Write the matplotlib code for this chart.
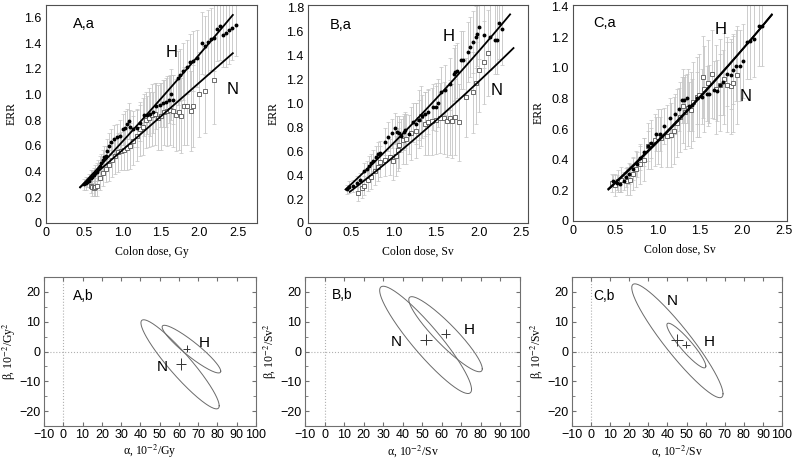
import numpy as np
import matplotlib
matplotlib.use("Agg")
import matplotlib.pyplot as plt
from matplotlib.ticker import MultipleLocator

plt.rcParams['font.family'] = ['Liberation Sans', 'DejaVu Sans']
plt.rcParams['mathtext.fontset'] = 'stix'

# ---------------- data: top row (ERR vs colon dose) ----------------
A_H_x = [0.50,0.52,0.54,0.56,0.58,0.60,0.62,0.64,0.66,0.68,0.70,0.72,0.74,0.76,0.78,0.80,0.82,0.85,0.88,0.92,
         0.96,1.00,1.03,1.06,1.08,1.10,1.14,1.18,1.23,1.28,1.32,1.36,1.40,1.44,1.48,1.52,1.56,1.60,
         1.63,1.66,1.72,1.75,1.79,1.84,1.88,1.92,1.97,2.03,2.07,2.11,2.15,2.19,2.23,2.27,2.31,2.35,2.39,2.43,2.47]
A_H_y = [0.30,0.31,0.32,0.33,0.35,0.36,0.37,0.39,0.40,0.42,0.44,0.47,0.49,0.51,0.52,0.56,0.60,0.63,0.65,0.67,
         0.68,0.73,0.74,0.77,0.79,0.75,0.73,0.74,0.78,0.84,0.84,0.85,0.86,0.91,0.92,0.93,0.94,0.96,
         1.00,0.96,1.13,1.15,1.18,1.21,1.25,1.26,1.28,1.40,1.38,1.41,1.43,1.44,1.51,1.53,1.46,1.48,1.50,1.52,1.54]
A_H_e = [0.04,0.05,0.04,0.05,0.06,0.05,0.06,0.06,0.07,0.07,0.08,0.07,0.08,0.09,0.08,0.09,0.10,0.10,0.11,0.10,
         0.12,0.12,0.13,0.12,0.14,0.13,0.14,0.15,0.14,0.16,0.15,0.17,0.16,0.18,0.17,0.18,0.19,0.18,0.20,0.19,
         0.21,0.20,0.22,0.21,0.22,0.23,0.22,0.24,0.23,0.25,0.24,0.26,0.25,0.26,0.25,0.27,0.26,0.25,0.24]
A_N_x = [0.58,0.60,0.62,0.64,0.66,0.70,0.74,0.78,0.82,0.86,0.90,0.94,0.98,1.02,1.06,1.10,1.14,1.18,1.22,1.26,
         1.30,1.34,1.38,1.42,1.46,1.50,1.54,1.58,1.62,1.66,1.69,1.73,1.76,1.80,1.84,1.89,1.92,2.00,2.07,2.19]
A_N_y = [0.29,0.28,0.27,0.28,0.29,0.35,0.39,0.42,0.45,0.49,0.52,0.55,0.56,0.57,0.58,0.60,0.64,0.68,0.73,0.75,
         0.80,0.82,0.84,0.85,0.82,0.83,0.86,0.87,0.88,0.87,0.84,0.86,0.835,0.91,0.91,0.87,0.91,1.00,1.03,1.11]
A_N_e = [0.06,0.07,0.06,0.07,0.08,0.09,0.10,0.10,0.12,0.13,0.14,0.15,0.15,0.16,0.17,0.18,0.19,0.20,0.21,0.22,
         0.22,0.23,0.24,0.24,0.25,0.26,0.25,0.27,0.27,0.28,0.28,0.29,0.29,0.30,0.30,0.31,0.32,0.33,0.33,0.34]

B_H_x = [0.46,0.48,0.53,0.57,0.61,0.66,0.69,0.72,0.74,0.76,0.80,0.82,0.84,0.90,0.94,0.98,1.02,1.04,1.07,1.09,
         1.12,1.14,1.18,1.23,1.27,1.30,1.34,1.37,1.41,1.47,1.50,1.52,1.56,1.61,1.66,1.71,1.72,1.75,1.79,1.82,
         1.88,1.90,1.93,1.97,1.98,2.01,2.06,2.14,2.19,2.22,2.24,2.27]
B_H_y = [0.28,0.30,0.31,0.33,0.36,0.43,0.45,0.48,0.50,0.52,0.55,0.58,0.585,0.68,0.72,0.75,0.79,0.76,0.75,0.73,
         0.76,0.78,0.74,0.84,0.83,0.86,0.89,0.91,0.93,0.97,0.97,1.00,1.09,1.11,1.16,1.24,1.26,1.27,1.36,1.36,
         1.43,1.47,1.51,1.55,1.58,1.64,1.57,1.555,1.53,1.53,1.666,1.62]
B_H_e = [0.04,0.05,0.05,0.06,0.06,0.07,0.07,0.08,0.08,0.09,0.09,0.10,0.10,0.11,0.12,0.12,0.13,0.13,0.14,0.14,
         0.15,0.15,0.16,0.16,0.17,0.17,0.18,0.18,0.19,0.19,0.20,0.20,0.21,0.21,0.22,0.22,0.23,0.23,0.24,0.24,
         0.25,0.25,0.26,0.26,0.27,0.27,0.28,0.28,0.29,0.29,0.30,0.30]
B_N_x = [0.59,0.63,0.66,0.70,0.74,0.78,0.82,0.85,0.90,0.96,1.00,1.03,1.05,1.07,1.11,1.15,1.21,1.27,1.30,1.33,
         1.37,1.41,1.45,1.50,1.55,1.59,1.63,1.66,1.69,1.72,1.77,1.85,1.93,1.97,2.01,2.06,2.11]
B_N_y = [0.25,0.29,0.31,0.36,0.38,0.43,0.47,0.51,0.53,0.55,0.52,0.56,0.61,0.65,0.69,0.70,0.75,0.77,0.87,0.89,
         0.83,0.84,0.85,0.86,0.875,0.88,0.85,0.88,0.85,0.885,0.84,1.05,1.09,1.17,1.28,1.34,1.42]
B_N_e = [0.07,0.08,0.08,0.09,0.10,0.11,0.12,0.13,0.14,0.15,0.16,0.17,0.18,0.19,0.20,0.21,0.22,0.23,0.24,0.25,
         0.26,0.27,0.28,0.28,0.29,0.30,0.30,0.31,0.31,0.32,0.32,0.33,0.34,0.34,0.35,0.35,0.36]

C_H_x = [0.48,0.52,0.56,0.60,0.63,0.67,0.71,0.76,0.80,0.84,0.89,0.93,0.98,1.03,1.08,1.15,1.21,1.26,1.29,1.32,
         1.35,1.38,1.41,1.47,1.53,1.59,1.62,1.67,1.71,1.75,1.78,1.83,1.87,1.90,1.94,1.98,2.02,2.07,2.10,2.15,
         2.21,2.24]
C_H_y = [0.26,0.25,0.24,0.26,0.285,0.31,0.34,0.37,0.41,0.45,0.49,0.51,0.57,0.57,0.62,0.67,0.70,0.73,0.79,0.79,
         0.80,0.75,0.76,0.80,0.81,0.83,0.83,0.855,0.85,0.89,0.905,0.96,0.95,0.985,1.015,1.015,1.045,1.17,1.175,1.19,
         1.27,1.27]
C_H_e = [0.04,0.05,0.05,0.06,0.06,0.07,0.07,0.08,0.08,0.09,0.10,0.10,0.11,0.11,0.12,0.13,0.13,0.14,0.15,0.15,
         0.16,0.16,0.17,0.17,0.18,0.18,0.19,0.19,0.20,0.20,0.21,0.21,0.22,0.22,0.23,0.23,0.24,0.24,0.25,0.25,
         0.26,0.26]
C_N_x = [0.46,0.50,0.54,0.575,0.635,0.675,0.71,0.75,0.80,0.84,0.89,0.93,0.97,1.01,1.05,1.11,1.16,1.20,1.24,1.27,
         1.31,1.33,1.36,1.40,1.43,1.47,1.50,1.54,1.56,1.60,1.65,1.70,1.74,1.79,1.83,1.87,1.90,1.945]
C_N_y = [0.25,0.235,0.26,0.27,0.26,0.27,0.31,0.34,0.37,0.40,0.49,0.50,0.53,0.55,0.54,0.555,0.56,0.59,0.64,0.68,
         0.75,0.71,0.74,0.725,0.78,0.81,0.82,0.94,0.86,0.90,0.96,0.86,0.89,0.93,0.89,0.88,0.90,0.95]
C_N_e = [0.06,0.07,0.07,0.08,0.09,0.10,0.11,0.12,0.13,0.14,0.15,0.16,0.17,0.18,0.19,0.20,0.21,0.22,0.22,0.23,
         0.24,0.24,0.25,0.25,0.26,0.26,0.27,0.27,0.28,0.28,0.29,0.29,0.30,0.30,0.31,0.31,0.32,0.32]

# fitted curves: ERR = c0 + c1*D + c2*D^2 over [Dmin, Dmax]
A_H_fit = [0.0, 0.616, 0.020]; A_H_rng = [0.445, 2.435]
A_N_fit = [0.045, 0.524, 0.0]; A_N_rng = [0.445, 2.435]
B_H_fit = [0.0, 0.614, 0.051]; B_H_rng = [0.44, 2.37]
B_N_fit = [0.0, 0.512, 0.039]; B_N_rng = [0.49, 2.41]
C_H_fit = [0.0, 0.485, 0.036]; C_H_rng = [0.42, 2.36]
C_N_fit = [0.0, 0.470, 0.043]; C_N_rng = [0.42, 2.36]

# ---------------- data: bottom row (alpha, beta confidence ellipses) ----------------
# center alpha, center beta, sigma_alpha, sigma_beta, rho
A_N_ell = [60.6, -4.3, 20.3, 14.95, -0.93]
A_H_ell = [66.5, 0.8, 15.2, 8.0, -0.925]
B_N_ell = [51.7, 3.9, 23.5, 18.0, -0.922]
B_H_ell = [61.9, 5.8, 18.8, 12.6, -0.92]
C_N_ell = [45.2, 3.6, 23.9, 19.1, -0.932]
C_H_ell = [49.9, 2.0, 10.2, 7.5, -0.92]
# point estimates: alpha, beta, err_alpha, err_beta
A_N_est = [60.9, -4.2, 2.6, 2.0]
A_H_est = [64.0, 1.0, 1.9, 1.1]
B_N_est = [52.0, 3.9, 3.2, 1.85]
B_H_est = [61.9, 6.0, 2.2, 1.4]
C_N_est = [44.9, 3.75, 3.1, 2.0]
C_H_est = [49.7, 2.3, 1.9, 1.1]

W, H = 792, 462
fig = plt.figure(figsize=(W / 100, H / 100), dpi=100)

def rect(l, r, t, b):
    return [l / W, 1 - b / H, (r - l) / W, (b - t) / H]

serif = ['Liberation Serif', 'DejaVu Serif']
spine_col = '#505050'

def top_panel(pos, hx, hy, he, nx, ny, ne, hfit, hr, nfit, nr, xmax, ymax, yticks,
              xlabel, tag, tagpos, hpos, npos):
    ax = fig.add_axes(pos)
    ax.errorbar(nx, ny, yerr=ne, fmt='none', ecolor='#c4c4c4', elinewidth=0.6, capsize=1.3,
                capthick=0.5, zorder=1)
    ax.errorbar(hx, hy, yerr=he, fmt='none', ecolor='#c4c4c4', elinewidth=0.6, capsize=1.3,
                capthick=0.5, zorder=1)
    ax.plot(nx, ny, 's', ms=3.4, mfc='white', mec='#555555', mew=0.6, zorder=3)
    ax.plot(hx, hy, 'o', ms=2.8, mfc='black', mec='black', mew=0, zorder=4)
    for c, r in ((hfit, hr), (nfit, nr)):
        d = np.linspace(r[0], r[1], 100)
        ax.plot(d, c[0] + c[1] * d + c[2] * d ** 2, color='black', lw=1.3, zorder=5)
    ax.set_xlim(0, xmax)
    ax.set_ylim(0, ymax)
    ax.set_xticks([0, 0.5, 1.0, 1.5, 2.0, 2.5])
    ax.set_xticklabels(['0', '0.5', '1.0', '1.5', '2.0', '2.5'])
    ax.set_yticks(yticks)
    ax.set_yticklabels(['0' if v == 0 else '%.1f' % v for v in yticks])
    ax.tick_params(labelsize=9, length=0, pad=3)
    for s in ax.spines.values():
        s.set_color(spine_col)
        s.set_linewidth(0.8)
    ax.set_xlabel(xlabel, family=serif, fontsize=8.5, labelpad=5)
    ax.set_ylabel('ERR', family=serif, fontsize=8.5, labelpad=5)
    ax.text(tagpos[0], tagpos[1], tag, fontsize=10.5, ha='center', va='center')
    ax.text(hpos[0], hpos[1], 'H', fontsize=12, ha='center', va='center')
    ax.text(npos[0], npos[1], 'N', fontsize=12, ha='center', va='center')
    return ax

def ellipse_xy(p):
    t = np.linspace(0, 2 * np.pi, 300)
    x = p[0] + p[2] * np.cos(t)
    y = p[1] + p[3] * (p[4] * np.cos(t) + np.sqrt(1 - p[4] ** 2) * np.sin(t))
    return x, y

def bottom_panel(pos, nell, hell, nest, hest, xlabel, ylabel, tag, tagpos, hpos, npos):
    ax = fig.add_axes(pos)
    ax.axhline(0, color='#b0b0b0', lw=0.8, ls=':', zorder=0)
    ax.axvline(0, color='#b0b0b0', lw=0.8, ls=':', zorder=0)
    for p in (nell, hell):
        x, y = ellipse_xy(p)
        ax.plot(x, y, color='#6a6a6a', lw=0.7)
    for e in (nest, hest):
        ax.errorbar([e[0]], [e[1]], xerr=[e[2]], yerr=[e[3]], fmt='none', ecolor='#333333',
                    elinewidth=0.7, capsize=0)
    ax.set_xlim(-10, 100)
    ax.set_ylim(-25, 25)
    ax.set_xticks(np.arange(-10, 101, 10))
    ax.set_yticks([-20, -10, 0, 10, 20])
    ax.yaxis.set_minor_locator(MultipleLocator(5))
    ax.tick_params(which='both', direction='in', top=True, right=True, labelsize=9,
                   color='#707070', pad=2.5)
    ax.tick_params(which='major', length=3)
    ax.tick_params(which='minor', length=2)
    for s in ax.spines.values():
        s.set_color('#707070')
        s.set_linewidth(0.8)
    ax.set_xlabel(xlabel, family=serif, fontsize=8.5, labelpad=1)
    ax.set_ylabel(ylabel, family=serif, fontsize=8.5, labelpad=1)
    ax.text(tagpos[0], tagpos[1], tag, fontsize=10, ha='center', va='center')
    ax.text(hpos[0], hpos[1], 'H', fontsize=11, ha='center', va='center')
    ax.text(npos[0], npos[1], 'N', fontsize=11, ha='center', va='center')
    return ax

top_panel(rect(46, 257, 5, 223), A_H_x, A_H_y, A_H_e, A_N_x, A_N_y, A_N_e,
          A_H_fit, A_H_rng, A_N_fit, A_N_rng, 2.75, 1.696,
          [0, 0.2, 0.4, 0.6, 0.8, 1.0, 1.2, 1.4, 1.6], 'Colon dose, Gy', 'A,a', (0.49, 1.55),
          (1.64, 1.33), (2.43, 1.04))
top_panel(rect(308, 528, 5, 223), B_H_x, B_H_y, B_H_e, B_N_x, B_N_y, B_N_e,
          B_H_fit, B_H_rng, B_N_fit, B_N_rng, 2.58, 1.82,
          [0, 0.2, 0.4, 0.6, 0.8, 1.0, 1.2, 1.4, 1.6, 1.8], 'Colon dose, Sv', 'B,a', (0.38, 1.65),
          (1.65, 1.56), (2.21, 1.11))
top_panel(rect(573, 787, 5, 221), C_H_x, C_H_y, C_H_e, C_N_x, C_N_y, C_N_e,
          C_H_fit, C_H_rng, C_N_fit, C_N_rng, 2.54, 1.41,
          [0, 0.2, 0.4, 0.6, 0.8, 1.0, 1.2, 1.4], 'Colon dose, Sv', 'C,a', (0.37, 1.29),
          (1.75, 1.25), (2.05, 0.81))

bottom_panel(rect(44, 256, 277, 426), A_N_ell, A_H_ell, A_N_est, A_H_est,
             r'α, 10$^{-2}$/Gy', r'β, 10$^{-2}$/Gy$^2$', 'A,b', (10.4, 18.5), (73, 3), (51.3, -5.3))
bottom_panel(rect(305, 520, 277, 426), B_N_ell, B_H_ell, B_N_est, B_H_est,
             r'α, 10$^{-2}$/Sv', r'β, 10$^{-2}$/Sv$^2$', 'B,b', (8.9, 18.9), (74.2, 7.3), (36.8, 3.1))
bottom_panel(rect(572, 782, 277, 426), C_N_ell, C_H_ell, C_N_est, C_H_est,
             r'α, 10$^{-2}$/Sv', r'β, 10$^{-2}$/Sv$^2$', 'C,b', (6.5, 18.75), (62.1, 3.1), (42.3, 16.8))

fig.savefig('out.png', dpi=100)
